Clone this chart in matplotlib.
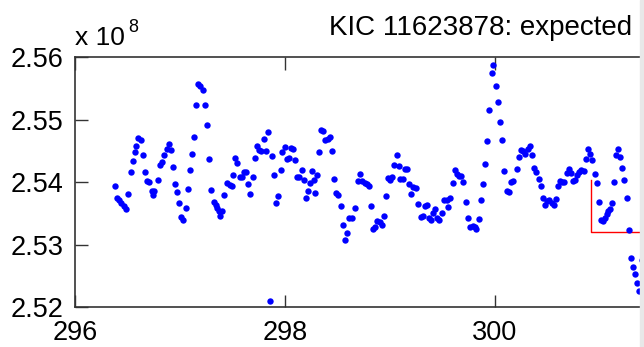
import matplotlib
matplotlib.use("Agg")
import matplotlib.pyplot as plt
from matplotlib.patches import Rectangle

# time (days) and flux (units of 1e8)
time = [
    296.381, 296.397, 296.419, 296.441, 296.464, 296.486, 296.505, 296.529, 296.552, 296.567,
    296.581, 296.603, 296.629, 296.645, 296.664, 296.683, 296.705, 296.730, 296.746, 296.755,
    296.788, 296.807, 296.831, 296.850, 296.873, 296.892, 296.911, 296.930, 296.955, 296.974,
    296.993, 297.012, 297.031, 297.054, 297.079, 297.098, 297.117, 297.136, 297.155, 297.174,
    297.193, 297.222, 297.241, 297.260, 297.276, 297.298, 297.321, 297.340, 297.355, 297.371,
    297.384, 297.400, 297.419, 297.448, 297.473, 297.492, 297.508, 297.524, 297.543, 297.571,
    297.593, 297.610, 297.629, 297.648, 297.667, 297.692, 297.711, 297.730, 297.750, 297.771,
    297.797, 297.816, 297.835, 297.854, 297.873, 297.895, 297.917, 297.936, 297.959, 297.974,
    297.997, 298.016, 298.038, 298.054, 298.079, 298.098, 298.117, 298.133, 298.162, 298.181,
    298.200, 298.219, 298.241, 298.260, 298.280, 298.290, 298.308, 298.327, 298.346, 298.365,
    298.384, 298.407, 298.429, 298.448, 298.467, 298.486, 298.505, 298.530, 298.550, 298.571,
    298.590, 298.610, 298.635, 298.671, 298.695, 298.714, 298.736, 298.759, 298.778, 298.800,
    298.816, 298.835, 298.854, 298.879, 298.902, 298.921, 298.943, 298.959, 298.978, 299.000,
    299.019, 299.041, 299.064, 299.083, 299.098, 299.121, 299.143, 299.165, 299.184, 299.203,
    299.222, 299.248, 299.270, 299.292, 299.311, 299.330, 299.350, 299.371, 299.390, 299.410,
    299.429, 299.450, 299.470, 299.492, 299.517, 299.540, 299.555, 299.574, 299.597, 299.616,
    299.635, 299.654, 299.679, 299.698, 299.721, 299.740, 299.762, 299.788, 299.807, 299.822,
    299.845, 299.864, 299.883, 299.902, 299.921, 299.940, 299.968, 299.984, 300.007, 300.026,
    300.045, 300.067, 300.089, 300.111, 300.130, 300.152, 300.174, 300.212, 300.231, 300.250,
    300.270, 300.289, 300.311, 300.336, 300.355, 300.374, 300.393, 300.416, 300.438, 300.460,
    300.479, 300.498, 300.517, 300.540, 300.559, 300.578, 300.600, 300.619, 300.641, 300.660,
    300.686, 300.708, 300.724, 300.746, 300.765, 300.784, 300.803, 300.822, 300.848, 300.864,
    300.886, 300.902, 300.927, 300.950, 300.969, 300.990, 301.007, 301.025, 301.045, 301.064,
    301.079, 301.095, 301.111, 301.130, 301.150, 301.174, 301.193, 301.212, 301.231, 301.254,
    301.279, 301.298, 301.317, 301.336, 301.355, 301.374, 301.400,
]
flux = [
    2.5393, 2.5374, 2.5371, 2.5366, 2.5362, 2.5357, 2.5381, 2.5416, 2.5434, 2.5448,
    2.5457, 2.5470, 2.5467, 2.5443, 2.5416, 2.5401, 2.5400, 2.5386, 2.5379, 2.5386,
    2.5404, 2.5428, 2.5432, 2.5443, 2.5453, 2.5461, 2.5451, 2.5424, 2.5397, 2.5384,
    2.5366, 2.5344, 2.5339, 2.5358, 2.5389, 2.5419, 2.5445, 2.5472, 2.5524, 2.5557,
    2.5554, 2.5547, 2.5523, 2.5491, 2.5437, 2.5388, 2.5368, 2.5364, 2.5359, 2.5353,
    2.5346, 2.5353, 2.5380, 2.5399, 2.5396, 2.5394, 2.5412, 2.5438, 2.5431, 2.5408,
    2.5408, 2.5416, 2.5416, 2.5397, 2.5381, 2.5408, 2.5438, 2.5458, 2.5452, 2.5450,
    2.5469, 2.5450, 2.5480, 2.5210, 2.5442, 2.5412, 2.5366, 2.5377, 2.5420, 2.5448,
    2.5456, 2.5437, 2.5438, 2.5454, 2.5453, 2.5435, 2.5408, 2.5408, 2.5420, 2.5404,
    2.5375, 2.5386, 2.5398, 2.5417, 2.5404, 2.5382, 2.5412, 2.5448, 2.5483, 2.5482,
    2.5467, 2.5469, 2.5472, 2.5449, 2.5405, 2.5382, 2.5379, 2.5362, 2.5331, 2.5308,
    2.5318, 2.5342, 2.5342, 2.5359, 2.5402, 2.5413, 2.5402, 2.5398, 2.5397, 2.5394,
    2.5362, 2.5325, 2.5328, 2.5338, 2.5336, 2.5332, 2.5346, 2.5377, 2.5406, 2.5403,
    2.5408, 2.5428, 2.5443, 2.5426, 2.5405, 2.5405, 2.5421, 2.5421, 2.5397, 2.5381,
    2.5392, 2.5391, 2.5365, 2.5344, 2.5346, 2.5362, 2.5363, 2.5343, 2.5339, 2.5350,
    2.5357, 2.5342, 2.5340, 2.5350, 2.5371, 2.5372, 2.5360, 2.5375, 2.5399, 2.5420,
    2.5413, 2.5410, 2.5410, 2.5400, 2.5368, 2.5342, 2.5328, 2.5330, 2.5328, 2.5325,
    2.5341, 2.5371, 2.5397, 2.5429, 2.5466, 2.5516, 2.5575, 2.5588, 2.5554, 2.5528,
    2.5496, 2.5467, 2.5418, 2.5386, 2.5384, 2.5400, 2.5402, 2.5421, 2.5440, 2.5452,
    2.5449, 2.5445, 2.5453, 2.5457, 2.5443, 2.5422, 2.5416, 2.5405, 2.5394, 2.5374,
    2.5364, 2.5370, 2.5372, 2.5367, 2.5363, 2.5373, 2.5394, 2.5401, 2.5400, 2.5400,
    2.5415, 2.5421, 2.5415, 2.5402, 2.5404, 2.5411, 2.5416, 2.5419, 2.5418, 2.5437,
    2.5453, 2.5445, 2.5435, 2.5413, 2.5398, 2.5368, 2.5340, 2.5338, 2.5343, 2.5349,
    2.5354, 2.5357, 2.5367, 2.5400, 2.5444, 2.5453, 2.5440, 2.5423, 2.5404, 2.5374,
    2.5323, 2.5278, 2.5264, 2.5253, 2.5239, 2.5226, 2.5276,
]

# expected transit model (step)
model_time = [300.917, 300.917, 302.0]
model_flux = [2.5404, 2.5320, 2.5320]

xticks = [296, 298, 300]
yticks = [2.52, 2.53, 2.54, 2.55, 2.56]
title = "KIC 11623878: expected"


def main():
    plt.rcParams['font.family'] = ['Liberation Sans', 'DejaVu Sans']

    W, H = 644, 347
    fig = plt.figure(figsize=(W / 100, H / 100), dpi=100)
    # axes spill off the right side, like the cropped original
    ax = fig.add_axes([75 / W, 40 / H, 630 / W, 250 / H])

    ax.plot(time, flux, 'o', color='#0000ff', markersize=4.6,
            markeredgewidth=0, zorder=3)
    ax.plot(model_time, model_flux, color='#ff0000', linewidth=1.0, zorder=2)

    ax.set_xlim(296, 302)
    ax.set_ylim(2.52, 2.56)
    ax.set_xticks(xticks)
    ax.set_yticks(yticks)
    ax.set_xticklabels([str(t) for t in xticks])
    ax.set_yticklabels([f"{t:.2f}" for t in yticks])

    ax.tick_params(direction='in', length=9, width=1.0, color='#333333',
                   labelsize=19.5, top=True, right=True)
    ax.tick_params(axis='y', pad=8.5)
    ax.tick_params(axis='x', pad=9)
    for s in ax.spines.values():
        s.set_color('#333333')
        s.set_linewidth(1.2)

    # exponent label
    fig.text(75 / W, 1 - 45 / H, "x 10", fontsize=19, va='baseline', ha='left')
    fig.text(128 / W, 1 - 32 / H, "8", fontsize=13, va='baseline', ha='left')

    fig.text(329 / W, 1 - 35 / H, title, fontsize=20, va='baseline', ha='left')

    fig.patches.append(Rectangle((640 / W, 0), 4 / W, 1, transform=fig.transFigure,
                                 color='#e8e8e8', zorder=10))

    fig.savefig("out.png", dpi=100)


if __name__ == "__main__":
    main()
